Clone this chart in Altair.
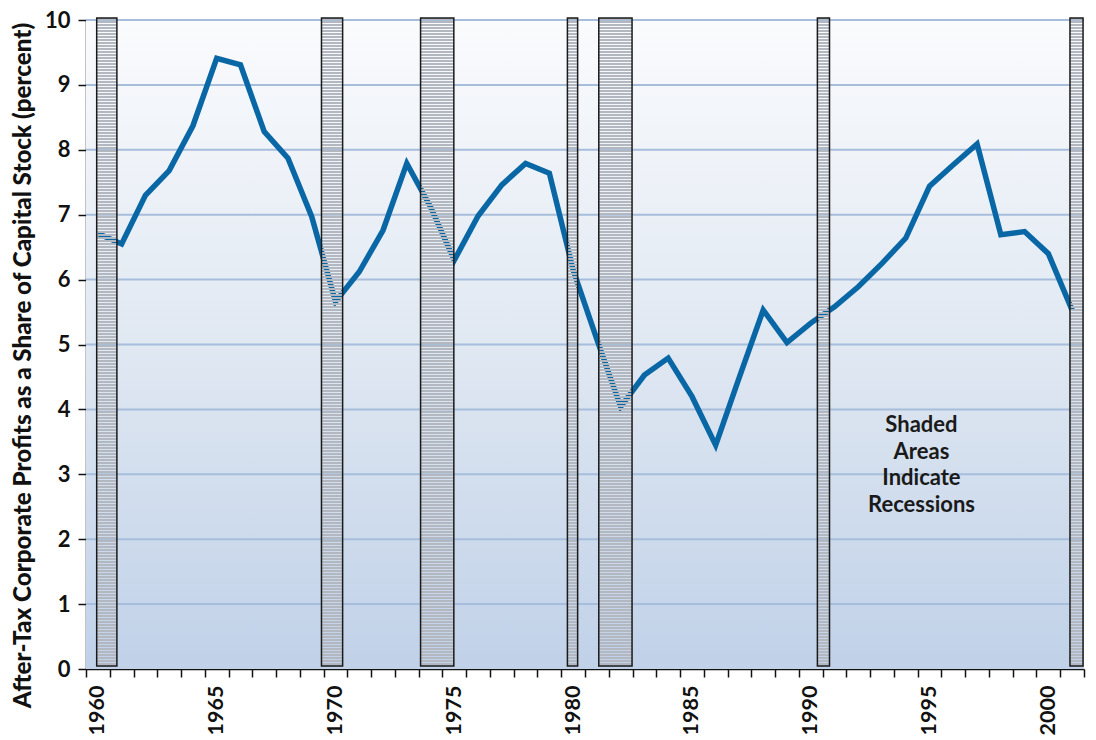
import altair as alt
import pandas as pd

# ---------------- data ----------------
years = list(range(1960, 2002))
profit_share = [6.71, 6.55, 7.30, 7.68, 8.37, 9.41, 9.31, 8.28, 7.87, 6.97,
                5.66, 6.12, 6.76, 7.79, 7.12, 6.30, 6.98, 7.46, 7.79, 7.64,
                6.15, 5.08, 4.04, 4.53, 4.79, 4.20, 3.45, 4.50, 5.53, 5.03,
                5.33, 5.58, 5.89, 6.25, 6.64, 7.44, 7.77, 8.09, 6.69, 6.74,
                6.40, 5.53]

recession_start = [1960.45, 1969.91, 1974.08, 1980.26, 1981.58, 1990.78, 2001.41]
recession_end = [1961.30, 1970.80, 1975.48, 1980.69, 1982.98, 1991.29, 2001.96]
recession_top = 10.03
recession_bottom = 0.045

y_ticks = [0, 1, 2, 3, 4, 5, 6, 7, 8, 9, 10]
x_ticks = list(range(1960, 2003))
grid_values = [1, 2, 3, 4, 5, 6, 7, 8, 9, 10]

note_text = ["Shaded", "Areas", "Indicate", "Recessions"]
note_year = 1995.16
note_value = 3.65

y_title = "After-Tax Corporate Profits as a Share of Capital Stock (percent)"

# ---------------- tables ----------------
line_df = pd.DataFrame({"year": years, "share": profit_share})
rec_df = pd.DataFrame({"start": recession_start, "end": recession_end,
                       "top": recession_top, "bottom": recession_bottom})
grid_df = pd.DataFrame({"v": grid_values})
note_df = pd.DataFrame({"x": [note_year], "y": [note_value], "t": [note_text]})

FONT = "Lato"
W, H = 998, 649

xscale = alt.Scale(domain=[1960, 2002], nice=False, zero=False)
yscale = alt.Scale(domain=[0, 10], nice=False)

x_axis = alt.Axis(values=x_ticks, format="d",
                  labelExpr="(datum.value % 5 == 0 && datum.value <= 2000) ? datum.label : ''",
                  labelAngle=-90, labelAlign="right", labelBaseline="middle",
                  labelOffset=11.9, labelPadding=8, tickSize=8,
                  tickColor="#111", tickWidth=1.5, domainColor="#111", domainWidth=1.5,
                  labelFont=FONT, labelFontSize=21.5, labelFontWeight="bold",
                  labelColor="#111", grid=False, title=None, labelFlush=False,
                  labelOverlap=False)
y_axis = alt.Axis(values=y_ticks, tickSize=8, labelPadding=8,
                  tickColor="#111", tickWidth=1.5, domainColor="#111", domainWidth=1.5,
                  labelFont=FONT, labelFontSize=22, labelFontWeight="bold",
                  labelColor="#111", grid=False, labelOverlap=False, labelFlush=False,
                  title=y_title, titleFont=FONT, titleFontSize=24.2,
                  titleFontWeight=900, titleColor="#111",
                  titleAngle=-90, titleAlign="center", titleBaseline="middle",
                  titleX=-63, titleY=345)

# background gradient
bg_grad = alt.LinearGradient(
    gradient="linear", x1=0, x2=0, y1=0, y2=1,
    stops=[alt.GradientStop(offset=0, color="#fafbfd"),
           alt.GradientStop(offset=0.5, color="#e0e8f2"),
           alt.GradientStop(offset=1, color="#c0d1e8")])

background = alt.Chart(grid_df).mark_rect(fill=bg_grad).encode(
    x=alt.value(0), x2=alt.value("width"),
    y=alt.value(0), y2=alt.value("height"))

grid = alt.Chart(grid_df).mark_rule(color="#a6bedb", strokeWidth=2).encode(
    y=alt.Y("v:Q", scale=yscale, axis=y_axis))

# striped recession fill: opaque grey stripes with transparent gaps (3px period)
N = 216
stops = []
for i in range(N):
    a = i / N
    b = (i + 0.6) / N
    c = (i + 1) / N
    stops += [alt.GradientStop(offset=a, color="#b3b7c0"),
              alt.GradientStop(offset=b, color="#b3b7c0"),
              alt.GradientStop(offset=b, color="rgba(255,255,255,0)"),
              alt.GradientStop(offset=c, color="rgba(255,255,255,0)")]
stripe = alt.LinearGradient(gradient="linear", x1=0, x2=0, y1=0, y2=1, stops=stops)

line = alt.Chart(line_df).transform_calculate(
    xc="datum.year + 0.5"
).mark_line(color="#0a67a6", strokeWidth=5.5, strokeJoin="miter").encode(
    x=alt.X("xc:Q", scale=xscale, axis=x_axis),
    y=alt.Y("share:Q", scale=yscale, axis=y_axis))

bars = alt.Chart(rec_df).mark_rect(fill=stripe, stroke="#1a1a1a", strokeWidth=1.5).encode(
    x=alt.X("start:Q", scale=xscale, axis=x_axis), x2="end:Q",
    y=alt.Y("top:Q", scale=yscale, axis=y_axis), y2="bottom:Q")

note = alt.Chart(note_df).mark_text(
    font=FONT, fontSize=22, fontWeight="bold", color="#1a1a1a",
    align="center", baseline="alphabetic", lineHeight=26.5
).encode(x=alt.X("x:Q", scale=xscale, axis=x_axis),
         y=alt.Y("y:Q", scale=yscale, axis=y_axis), text="t")

chart = alt.layer(background, grid, line, bars, note).properties(
    width=W, height=H,
    autosize=alt.AutoSizeParams(type="none"),
    padding={"left": 78, "top": 12, "right": 4, "bottom": 71},
).configure_view(stroke=None)

chart.save("out.html", embed_options={"renderer": "svg", "actions": False})
